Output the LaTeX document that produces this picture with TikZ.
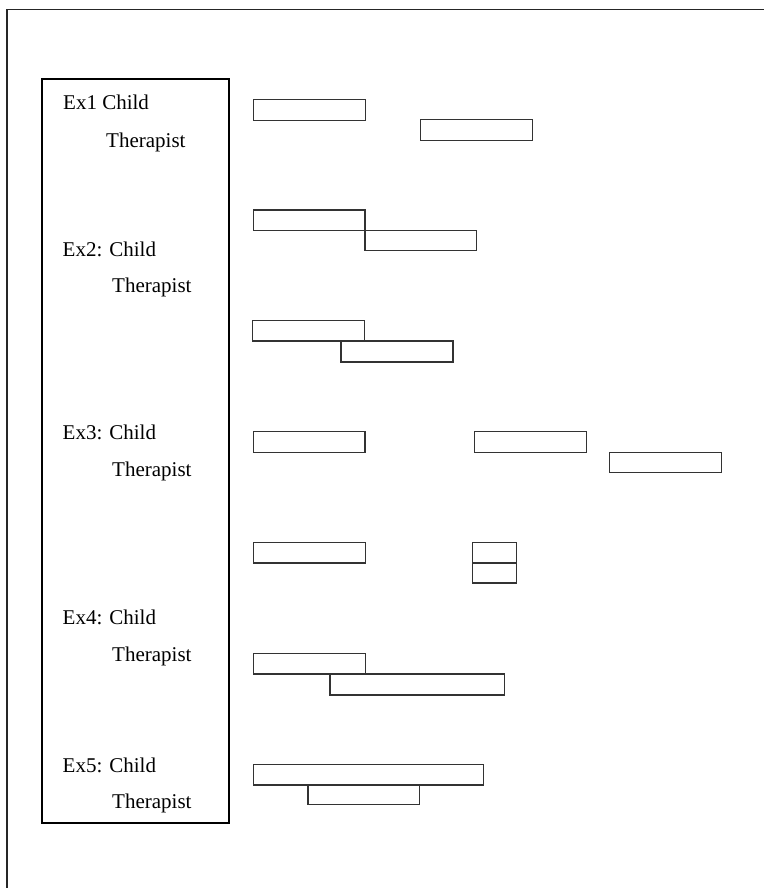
\documentclass[tikz,border=0pt]{standalone}
\usepackage{fontspec}
\setmainfont{Liberation Serif}
\usepackage{tikz}
\tikzset{
	bar/.style={line width=1.8pt, color=black!80},
	lbl/.style={anchor=base west, inner sep=0pt, font=\fontsize{21}{25}\selectfont},
}

\begin{document}
\begin{tikzpicture}[x=1pt, y=-1pt]
		%%%%% START %%%%%
		\useasboundingbox (0, 0) rectangle (764, 888);
		
		% outer frame (only top and left edge show)
		\draw[line width=1.6pt, color=black!85] (7, 888) -- (7, 9.5) -- (764, 9.5);
		
		% label box
		\draw[line width=2pt] (42, 79) rectangle (229, 823);
		
		\node[lbl] (c1) at (63, 110) {Ex1 Child};
		\node[lbl] (t1) at (106, 147) {Therapist};
		\node[lbl] (c2) at (62.5, 256) {Ex2: Child};
		\node[lbl] (t2) at (112, 292.5) {Therapist};
		\node[lbl] (c3) at (62.5, 439) {Ex3: Child};
		\node[lbl] (t3) at (112, 476.5) {Therapist};
		\node[lbl] (c4) at (62.5, 624) {Ex4: Child};
		\node[lbl] (t4) at (112, 661) {Therapist};
		\node[lbl] (c5) at (62.5, 772) {Ex5: Child};
		\node[lbl] (t5) at (112, 808) {Therapist};
		
		% Ex1
		\draw[bar] (253.5, 99.5) rectangle (365.5, 120.5);
		\draw[bar] (420.5, 119.5) rectangle (532.5, 140.5);
		
		% Ex2
		\draw[bar] (253.5, 210) rectangle (365, 230.5);
		\draw[bar] (365, 230.5) rectangle (476.5, 250.5);
		
		\draw[bar] (252.5, 320.5) rectangle (364.5, 341);
		\draw[bar] (341, 341) rectangle (453, 362);
		
		% Ex3
		\draw[bar] (253.5, 431.5) rectangle (365, 452.5);
		\draw[bar] (474.5, 431.5) rectangle (586.5, 452.5);
		\draw[bar] (609.5, 452.5) rectangle (721.5, 472.5);
		
		\draw[bar] (253.5, 542.5) rectangle (365.5, 563);
		\draw[bar] (472.5, 542.5) rectangle (516.5, 563);
		\draw[bar] (472.5, 563) rectangle (516.5, 583);
		
		% Ex4
		\draw[bar] (253.5, 653.5) rectangle (365.5, 674);
		\draw[bar] (330, 674) rectangle (504.5, 695);
		
		% Ex5
		\draw[bar] (253.5, 764.5) rectangle (483.5, 785);
		\draw[bar] (308, 785) rectangle (419.5, 804.5);
		
		%%%%% END %%%%%
	\end{tikzpicture}
\end{document}
